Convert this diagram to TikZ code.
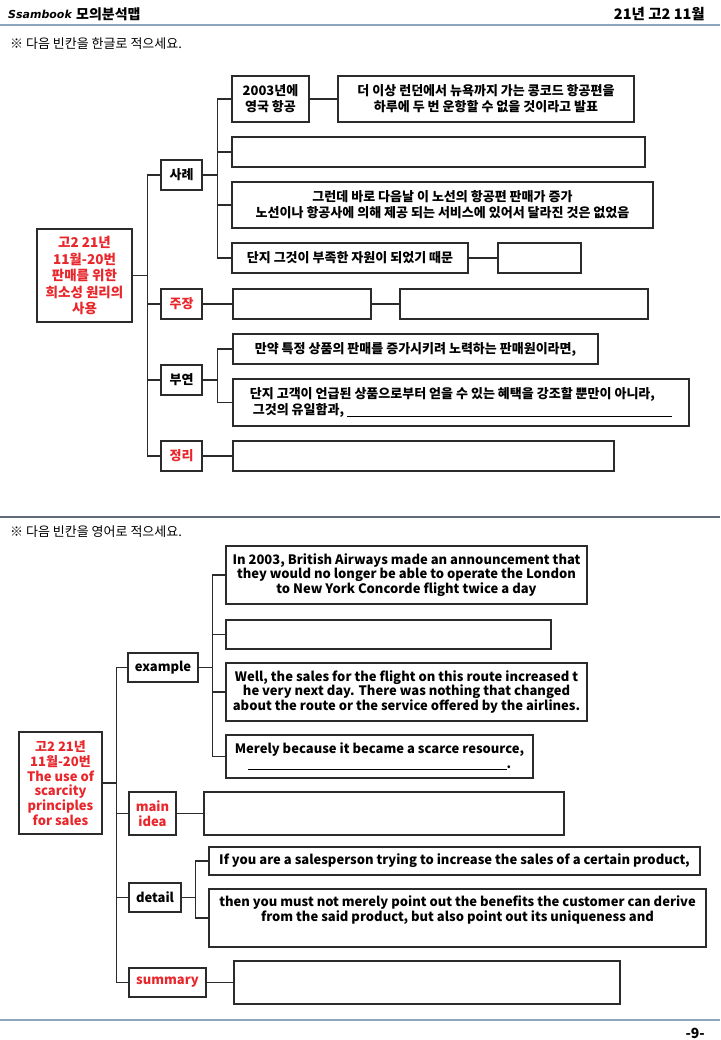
\documentclass[tikz,border=0pt]{standalone}
\usepackage{fontspec}
\setmainfont{Noto Sans CJK KR}
\newfontfamily\brandfont{DejaVu Sans}
\usepackage{xcolor}
\definecolor{mapRed}{HTML}{E8262B}
\definecolor{mapLine}{HTML}{2B2B2B}
\definecolor{mapRule}{HTML}{8EA6BD}
\definecolor{mapRuleDark}{HTML}{5F6B78}

\begin{document}
\begin{tikzpicture}[x=1pt, y=-1pt,
  box/.style={draw=mapLine, line width=1.4pt, inner sep=0pt, align=center, font=\bfseries\fontsize{13}{16}\selectfont},
  boxen/.style={box, font=\bfseries\fontsize{13}{14.5}\selectfont},
  wh/.style 2 args={minimum width=#1pt, minimum height=#2pt},
  link/.style={draw=mapLine, line width=1.4pt},
  redtext/.style={text=mapRed}]
  \useasboundingbox (0,0) rectangle (720,1040);

  \node[anchor=west, inner sep=0pt, font=\brandfont\bfseries\itshape\fontsize{11}{13}\selectfont] (hBrand) at (8,14) {Ssambook};
  \node[anchor=west, inner sep=0pt, font=\bfseries\fontsize{14}{16}\selectfont] (hTitle) at (76,14) {모의분석맵};
  \node[anchor=east, inner sep=0pt, font=\bfseries\fontsize{14.5}{16}\selectfont] (hDate) at (705,14) {21년 고2 11월};
  \draw[mapRule, line width=1.5pt] (0,25) -- (720,25);
  \node[anchor=west, inner sep=0pt, font=\fontsize{13}{15}\selectfont] (qKor) at (10,44) {※ 다음 빈칸을 한글로 적으세요.};

  \node[box, redtext, wh={95}{93}, font=\bfseries\fontsize{13.5}{16.5}\selectfont] (nRootK) at (84.5,275.5) {고2 21년\\11월-20번\\판매를 위한\\희소성 원리의\\사용};
  \node[box, wh={41}{30}] (nCase) at (181.5,175) {사례};
  \node[box, redtext, wh={41}{30}] (nClaim) at (181.5,304) {주장};
  \node[box, wh={41}{30}] (nDetK) at (181.5,380) {부연};
  \node[box, redtext, wh={41}{30}] (nSumK) at (181.5,456) {정리};

  \node[box, wh={77}{46}] (nCase1) at (270.5,99) {2003년에\\영국 항공};
  \node[box, wh={296}{46}] (nCase1b) at (486,99) {더 이상 런던에서 뉴욕까지 가는 콩코드 항공편을\\하루에 두 번 운항할 수 없을 것이라고 발표};
  \node[box, wh={413}{30}] (nCase2) at (438.5,152) {};
  \node[box, wh={421}{46}] (nCase3) at (442.5,205) {그런데 바로 다음날 이 노선의 항공편 판매가 증가\\노선이나 항공사에 의해 제공 되는 서비스에 있어서 달라진 것은 없었음};
  \node[box, wh={236}{30}] (nCase4) at (350,258) {단지 그것이 부족한 자원이 되었기 때문};
  \node[box, wh={83}{30}] (nCase4b) at (539.5,258) {};
  \node[box, wh={138}{30}] (nClaim1) at (302,304) {};
  \node[box, wh={248}{30}] (nClaim2) at (524,304) {};
  \node[box, wh={365}{30}] (nDet1) at (415.5,349) {만약 특정 상품의 판매를 증가시키려 노력하는 판매원이라면,};
  \node[box, wh={456}{47}, align=left] (nDet2) at (461,402.5) {단지 고객이 언급된 상품으로부터 얻을 수 있는 혜택을 강조할 뿐만이 아니라,\\\ 그것의 유일함과, \rule[-2pt]{325pt}{0.8pt}};
  \node[box, wh={381}{30}] (nSum1) at (423.5,456) {};

  \draw[link] (nRootK.east) -- ++(15,0) |- (nCase.west);
  \draw[link] (nRootK.east) -- ++(15,0) |- (nClaim.west);
  \draw[link] (nRootK.east) -- ++(15,0) |- (nDetK.west);
  \draw[link] (nRootK.east) -- ++(15,0) |- (nSumK.west);
  \draw[link] (nCase.east) -- ++(15,0) |- (nCase1.west);
  \draw[link] (nCase.east) -- ++(15,0) |- (nCase2.west);
  \draw[link] (nCase.east) -- ++(15,0) |- (nCase3.west);
  \draw[link] (nCase.east) -- ++(15,0) |- (nCase4.west);
  \draw[link] (nCase1.east) -- (nCase1b.west);
  \draw[link] (nCase4.east) -- (nCase4b.west);
  \draw[link] (nClaim.east) -- (nClaim1.west);
  \draw[link] (nClaim1.east) -- (nClaim2.west);
  \draw[link] (nDetK.east) -- ++(15,0) |- (nDet1.west);
  \draw[link] (nDetK.east) -- ++(15,0) |- (nDet2.west);
  \draw[link] (nSumK.east) -- (nSum1.west);

  \draw[mapRuleDark, line width=1.2pt] (0,517) -- (720,517);
  \node[anchor=west, inner sep=0pt, font=\fontsize{13}{15}\selectfont] (qEng) at (10,532) {※ 다음 빈칸을 영어로 적으세요.};

  \node[boxen, redtext, wh={83}{102}, font=\bfseries\fontsize{13}{14.7}\selectfont] (nRootE) at (60.5,783) {고2 21년\\11월-20번\\The use of\\scarcity\\principles\\for sales};
  \node[boxen, wh={70}{29}] (nEx) at (163,667.5) {example};
  \node[boxen, redtext, wh={47}{43}] (nMain) at (152.5,813.5) {main\\idea};
  \node[boxen, wh={52}{29}] (nDetE) at (155,897.5) {detail};
  \node[boxen, redtext, wh={77}{29}] (nSumm) at (167.5,982.5) {summary};

  \node[boxen, wh={361}{58}] (nEx1) at (406.5,575) {In 2003, British Airways made an announcement that\\they would no longer be able to operate the London\\to New York Concorde flight twice a day};
  \node[boxen, wh={325}{29}] (nEx2) at (388.5,634.5) {};
  \node[boxen, wh={361}{58}] (nEx3) at (406.5,692) {Well, the sales for the flight on this route increased t\\he very next day. There was nothing that changed\\about the route or the service offered by the airlines.};
  \node[boxen, wh={307}{43}] (nEx4) at (379.5,756.5) {Merely because it became a scarce resource,\\\rule[-2pt]{259pt}{0.8pt}.};
  \node[boxen, wh={360}{43}] (nMain1) at (384,813.5) {};
  \node[boxen, wh={491}{28}] (nDetE1) at (454.5,861) {If you are a salesperson trying to increase the sales of a certain product,};
  \node[boxen, wh={497}{58}] (nDetE2) at (457.5,918) {then you must not merely point out the benefits the customer can derive\\from the said product, but also point out its uniqueness and\\\strut};
  \node[boxen, wh={386}{43}] (nSumm1) at (427,982.5) {};

  \draw[link] (nRootE.east) -- ++(14,0) |- (nEx.west);
  \draw[link] (nRootE.east) -- ++(14,0) |- (nMain.west);
  \draw[link] (nRootE.east) -- ++(14,0) |- (nDetE.west);
  \draw[link] (nRootE.east) -- ++(14,0) |- (nSumm.west);
  \draw[link] (nEx.east) -- ++(14,0) |- (nEx1.west);
  \draw[link] (nEx.east) -- ++(14,0) |- (nEx2.west);
  \draw[link] (nEx.east) -- ++(14,0) |- (nEx3.west);
  \draw[link] (nEx.east) -- ++(14,0) |- (nEx4.west);
  \draw[link] (nMain.east) -- (nMain1.west);
  \draw[link] (nDetE.east) -- ++(14,0) |- (nDetE1.west);
  \draw[link] (nDetE.east) -- ++(14,0) |- (nDetE2.west);
  \draw[link] (nSumm.east) -- (nSumm1.west);

  \draw[mapRule, line width=1.5pt] (0,1020) -- (720,1020);
  \node[anchor=east, inner sep=0pt, font=\bfseries\fontsize{14}{16}\selectfont] (pNum) at (705,1033) {-9-};
\end{tikzpicture}
\end{document}
